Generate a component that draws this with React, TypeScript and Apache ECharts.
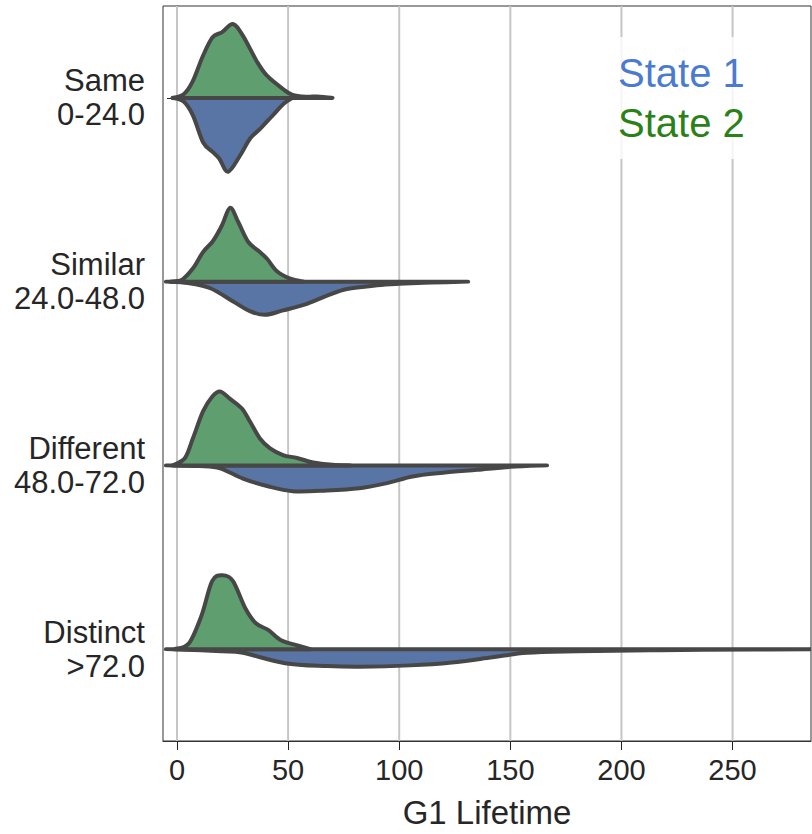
import React, { useEffect, useRef } from "react";
import * as echarts from "echarts";

const categories = ["Same\n0-24.0", "Similar\n24.0-48.0", "Different\n48.0-72.0", "Distinct\n>72.0"];
const xTicks = [0, 50, 100, 150, 200, 250];
const seriesNames = ["State 1", "State 2"];

// [G1 lifetime, relative density] — State 1 (lower half, blue)
const state1Same = [[-2, 0], [3, 0.05], [7.2, 0.24], [11.7, 0.6], [16, 0.73], [19, 0.82], [23, 1.0], [28.4, 0.78], [32.9, 0.55], [37.4, 0.42], [43, 0.24], [48, 0.08], [52, 0]];
const state1Similar = [[-5, 0], [5, 0.02], [15, 0.09], [25.3, 0.27], [32.8, 0.4], [39.6, 0.45], [47.7, 0.39], [58.5, 0.3], [67.5, 0.19], [76.5, 0.1], [90, 0.05], [100, 0.03], [115, 0.012], [131, 0]];
const state1Different = [[-5, 0], [10, 0.01], [19.4, 0.04], [29.7, 0.18], [40.5, 0.28], [52, 0.35], [67.5, 0.34], [82, 0.31], [94.5, 0.24], [106, 0.15], [119.7, 0.1], [135, 0.06], [150, 0.02], [166.5, 0]];
const state1Distinct = [[-5, 0], [11, 0.015], [20.5, 0.03], [29.7, 0.05], [48.6, 0.19], [67.5, 0.23], [82.4, 0.24], [105, 0.22], [123.7, 0.18], [142, 0.11], [157.5, 0.05], [180, 0.03], [217, 0.015], [260, 0.005], [292, 0]];

// State 2 (upper half, green)
const state2Same = [[-2, 0], [3, 0.05], [7, 0.22], [11.7, 0.57], [16, 0.82], [20.3, 0.89], [25.2, 1.0], [29.7, 0.84], [36, 0.49], [40.5, 0.3], [47.7, 0.12], [52, 0.04], [58, 0.015], [63, 0.02], [67, 0.01], [70, 0]];
const state2Similar = [[-3, 0], [2, 0.02], [7.2, 0.18], [11.7, 0.4], [16.2, 0.55], [20.2, 0.76], [23.9, 1.0], [27.5, 0.81], [32, 0.54], [36.5, 0.42], [40.5, 0.31], [45, 0.14], [51, 0.04], [57, 0]];
const state2Different = [[-2, 0], [3.6, 0.1], [7.2, 0.37], [11.7, 0.73], [15.8, 0.93], [19.4, 1.0], [23.9, 0.9], [29.2, 0.77], [32.9, 0.59], [37.4, 0.36], [41.9, 0.23], [47.7, 0.14], [54, 0.1], [61.3, 0.04], [70, 0.01], [78, 0]];
const state2Distinct = [[-1, 0], [5.4, 0.08], [11.1, 0.46], [15.8, 0.92], [20.5, 1.0], [25.2, 0.92], [30.8, 0.55], [35.5, 0.35], [41, 0.26], [46.8, 0.12], [54.2, 0.05], [60, 0]];

const state1 = [state1Same, state1Similar, state1Different, state1Distinct];
const state2 = [state2Same, state2Similar, state2Different, state2Distinct];

const FONT = "'Liberation Sans', Arial, Helvetica, sans-serif";
const BLUE_FILL = "#5875a5";
const GREEN_FILL = "#5f9e6e";
const EDGE = "#474747";

function smoothPath(pts: number[][], base: number, up: boolean): string {
  const clampY = (y: number) => (up ? Math.min(y, base) : Math.max(y, base));
  let d = `M${pts[0][0]},${pts[0][1]}`;
  for (let i = 0; i < pts.length - 1; i++) {
    const p0 = pts[i - 1] || pts[i];
    const p1 = pts[i];
    const p2 = pts[i + 1];
    const p3 = pts[i + 2] || p2;
    const c1x = p1[0] + (p2[0] - p0[0]) / 6;
    const c1y = clampY(p1[1] + (p2[1] - p0[1]) / 6);
    const c2x = p2[0] - (p3[0] - p1[0]) / 6;
    const c2y = clampY(p2[1] - (p3[1] - p1[1]) / 6);
    d += ` C${c1x},${c1y} ${c2x},${c2y} ${p2[0]},${p2[1]}`;
  }
  d += ` L${pts[0][0]},${base} Z`;
  return d;
}

function violinRenderer(sets: number[][][], up: boolean, fill: string) {
  return (params: any, api: any) => {
    const cat = params.dataIndex;
    const pts = sets[cat];
    const band = api.size([0, 1])[1];
    const maxH = band * 0.402;
    const base = api.coord([0, cat])[1];
    const px = pts.map((p) => [api.coord([p[0], cat])[0], base + (up ? -1 : 1) * p[1] * maxH]);
    return {
      type: "path",
      shape: { pathData: smoothPath(px, base, up) },
      style: { fill, stroke: EDGE, lineWidth: 4, lineJoin: "round" },
    };
  };
}

export default function App() {
  const ref = useRef<HTMLDivElement>(null);
  useEffect(() => {
    document.body.style.margin = "0";
    const chart = echarts.init(ref.current!, null, { renderer: "svg" });
    chart.setOption({
      animation: false,
      backgroundColor: "#ffffff",
      grid: { left: 163, right: 1, top: 6, bottom: 91, show: true, borderColor: "#333333", borderWidth: 1 },
      legend: {
        orient: "vertical",
        left: 601,
        top: 37,
        icon: "none",
        itemWidth: 0,
        itemGap: 10,
        padding: [16, 12],
        selectedMode: false,
        backgroundColor: "rgba(255,255,255,0.8)",
        textStyle: { fontSize: 40, fontFamily: FONT },
        data: [
          { name: seriesNames[0], textStyle: { color: "#4a7bd1" } },
          { name: seriesNames[1], textStyle: { color: "#2a8118" } },
        ],
      },
      xAxis: {
        type: "value",
        min: -6.3,
        max: 285.3,
        name: "G1 Lifetime",
        nameLocation: "middle",
        nameGap: 55,
        nameTextStyle: { fontSize: 33, color: "#262626", fontFamily: FONT },
        axisLine: { show: true, lineStyle: { color: "#333333", width: 1 } },
        axisTick: { show: true, length: 9, customValues: xTicks, lineStyle: { color: "#222222" } },
        axisLabel: { customValues: xTicks, fontSize: 29, color: "#262626", fontFamily: FONT, margin: 14 },
        splitLine: { show: false },
      },
      yAxis: {
        type: "category",
        inverse: true,
        data: categories,
        axisLine: { show: true, lineStyle: { color: "#333333", width: 1 } },
        axisTick: { show: true, alignWithLabel: true, length: 10, lineStyle: { color: "#222222" } },
        axisLabel: { fontSize: 31, lineHeight: 34, color: "#262626", fontFamily: FONT, margin: 18, align: "right" },
        splitLine: { show: false },
      },
      series: [
        {
          type: "custom",
          name: "grid",
          silent: true,
          z: 1,
          clip: true,
          data: xTicks.map((t) => [t, 0]),
          encode: { x: 0, y: 1 },
          renderItem: (params: any, api: any) => {
            const x = api.coord([xTicks[params.dataIndex], 0])[0];
            const cs = params.coordSys;
            return {
              type: "line",
              shape: { x1: x, y1: cs.y, x2: x, y2: cs.y + cs.height },
              style: { stroke: "#c6c6c6", lineWidth: 2 },
            };
          },
        },
        {
          type: "custom",
          name: seriesNames[0],
          z: 2,
          clip: true,
          itemStyle: { color: "#4a7bd1" },
          data: categories.map((_, i) => [0, i]),
          encode: { x: 0, y: 1 },
          renderItem: violinRenderer(state1, false, BLUE_FILL),
        },
        {
          type: "custom",
          name: seriesNames[1],
          z: 2,
          clip: true,
          itemStyle: { color: "#2a8118" },
          data: categories.map((_, i) => [0, i]),
          encode: { x: 0, y: 1 },
          renderItem: violinRenderer(state2, true, GREEN_FILL),
        },
      ],
    });
    return () => chart.dispose();
  }, []);
  return <div ref={ref} style={{ width: 812, height: 834 }} />;
}
